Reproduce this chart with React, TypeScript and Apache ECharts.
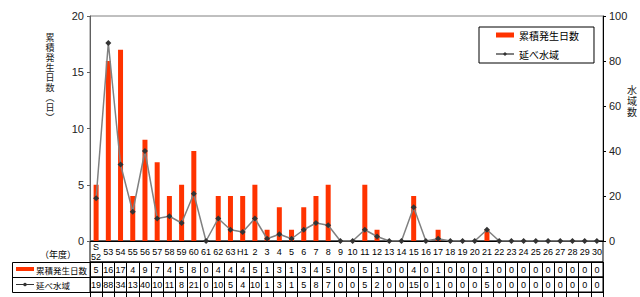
import React, { useEffect, useRef } from 'react';
import * as echarts from 'echarts';

const categories = ['S52','53','54','55','56','57','58','59','60','61','62','63','H1','2','3','4','5','6','7','8','9','10','11','12','13','14','15','16','17','18','19','20','21','22','23','24','25','26','27','28','29','30'];
const cumulativeDays = [5,16,17,4,9,7,4,5,8,0,4,4,4,5,1,3,1,3,4,5,0,0,5,1,0,0,4,0,1,0,0,0,1,0,0,0,0,0,0,0,0,0];
const waterAreas = [19,88,34,13,40,10,11,8,21,0,10,5,4,10,1,3,1,5,8,7,0,0,5,2,0,0,15,0,1,0,0,0,5,0,0,0,0,0,0,0,0,0];
const seriesNames = ['累積発生日数', '延べ水域'];
const leftAxisName = ['累','積','発','生','日','数','︵','日','︶'];
const rightAxisName = ['水','域','数'];
const yearLabel = '（年度）';

const JP = '"Noto Sans CJK JP", sans-serif';
const NUM = '"Liberation Sans", Arial, sans-serif';
const NARROW = '"Liberation Sans Narrow", "Liberation Sans", Arial, sans-serif';

export default function App() {
  const ref = useRef<HTMLDivElement>(null);
  useEffect(() => {
    if (!ref.current) return;
    const chart = echarts.init(ref.current, undefined, { renderer: 'svg' });
    const L = 90, W = 513;
    const tableAxis = (gridIndex: number, h: number, fmt: (v: string, i: number) => string) => ({
      type: 'category', gridIndex, position: 'top', data: categories, boundaryGap: true,
      axisLine: { show: true, lineStyle: { color: '#000', width: 1 } },
      axisTick: { show: true, inside: true, length: h, interval: 0, lineStyle: { color: '#000', width: 1 } },
      axisLabel: {
        show: true, inside: true, interval: 0, margin: h / 2, verticalAlign: 'middle',
        fontSize: 9, lineHeight: 10, color: '#000', fontFamily: NARROW, formatter: fmt,
      },
      splitLine: { show: false },
    });
    const hiddenY = (gridIndex: number) => ({ type: 'value', gridIndex, min: 0, max: 1, show: false });
    const hl = (x1: number, y1: number, x2: number, y2: number) => ({
      type: 'line', shape: { x1, y1, x2, y2 }, style: { stroke: '#000', lineWidth: 1 }, silent: true,
    });
    chart.setOption({
      animation: false,
      backgroundColor: '#fff',
      textStyle: { fontFamily: NUM },
      grid: [
        { left: L, top: 16, width: W, height: 225, show: true, borderColor: '#808080', borderWidth: 1 },
        { left: L, top: 241, width: W, height: 21, show: true, borderColor: '#000', borderWidth: 1 },
        { left: L, top: 262, width: W, height: 15, show: true, borderColor: '#000', borderWidth: 1 },
        { left: L, top: 277, width: W, height: 15, show: true, borderColor: '#000', borderWidth: 1 },
      ],
      legend: {
        orient: 'vertical', left: 479, top: 27,
        itemWidth: 18, itemHeight: 5, itemGap: 7, itemTextGap: 2,
        padding: [2, 15, 3, 16],
        borderColor: '#000', borderWidth: 1, backgroundColor: '#fff',
        textStyle: { fontSize: 10, lineHeight: 12, color: '#000', fontFamily: JP },
        data: [{ name: seriesNames[0], icon: 'rect' }, { name: seriesNames[1] }],
      },
      xAxis: [
        {
          type: 'category', gridIndex: 0, data: categories, boundaryGap: true,
          axisLine: { show: true, lineStyle: { color: '#000' } },
          axisTick: { show: false }, axisLabel: { show: false }, splitLine: { show: false },
        },
        tableAxis(1, 21, (v: string) => (v === 'S52' ? 'S\n52' : v)),
        tableAxis(2, 15, (_v: string, i: number) => String(cumulativeDays[i])),
        tableAxis(3, 15, (_v: string, i: number) => String(waterAreas[i])),
      ],
      yAxis: [
        {
          type: 'value', gridIndex: 0, min: 0, max: 20, interval: 5, position: 'left',
          axisLine: { show: true, lineStyle: { color: '#606060' } },
          axisTick: { show: true, inside: false, length: 3, lineStyle: { color: '#606060' } },
          axisLabel: { fontSize: 11, color: '#222', margin: 6, fontFamily: NUM },
          splitLine: { show: false },
        },
        {
          type: 'value', gridIndex: 0, min: 0, max: 100, interval: 20, position: 'right',
          axisLine: { show: true, lineStyle: { color: '#000' } },
          axisTick: { show: true, inside: false, length: 3, lineStyle: { color: '#000' } },
          axisLabel: { fontSize: 11, color: '#222', margin: 6, fontFamily: NUM },
          splitLine: { show: false },
        },
        hiddenY(1), hiddenY(2), hiddenY(3),
      ],
      series: [
        {
          name: seriesNames[0], type: 'bar', xAxisIndex: 0, yAxisIndex: 0,
          data: cumulativeDays, barWidth: 5,
          itemStyle: { color: '#FF3300' }, z: 2,
        },
        {
          name: seriesNames[1], type: 'line', xAxisIndex: 0, yAxisIndex: 1,
          data: waterAreas, symbol: 'diamond', symbolSize: 6,
          itemStyle: { color: '#333' },
          lineStyle: { color: '#808080', width: 1.5 }, z: 3,
        },
      ],
      graphic: [
        {
          type: 'text', x: 50, y: 32,
          style: { text: leftAxisName.join('\n'), fontSize: 9, lineHeight: 10, fill: '#222', fontFamily: JP, align: 'center' },
        },
        {
          type: 'text', x: 632, y: 84,
          style: { text: rightAxisName.join('\n'), fontSize: 10, lineHeight: 11, fill: '#222', fontFamily: JP, align: 'center' },
        },
        {
          type: 'text', x: 58, y: 254,
          style: { text: yearLabel, fontSize: 9, fill: '#000', fontFamily: JP, align: 'center', verticalAlign: 'middle' },
        },
        hl(12.5, 262.5, 90, 262.5),
        hl(12.5, 277.5, 90, 277.5),
        hl(12.5, 292.5, 90, 292.5),
        hl(12.5, 262.5, 12.5, 292.5),
        { type: 'rect', shape: { x: 16, y: 267, width: 18, height: 4 }, style: { fill: '#FF3300' } },
        {
          type: 'text', x: 36, y: 269.5,
          style: { text: seriesNames[0], fontSize: 8.5, fill: '#000', fontFamily: JP, verticalAlign: 'middle' },
        },
        { type: 'line', shape: { x1: 16, y1: 284.5, x2: 34, y2: 284.5 }, style: { stroke: '#333', lineWidth: 1 } },
        { type: 'circle', shape: { cx: 25, cy: 284.5, r: 1.8 }, style: { fill: '#333' } },
        {
          type: 'text', x: 36, y: 284.5,
          style: { text: seriesNames[1], fontSize: 8.5, fill: '#000', fontFamily: JP, verticalAlign: 'middle' },
        },
      ],
    });
    return () => chart.dispose();
  }, []);
  return <div ref={ref} style={{ position: 'fixed', left: 0, top: 0, width: 640, height: 297 }} />;
}
